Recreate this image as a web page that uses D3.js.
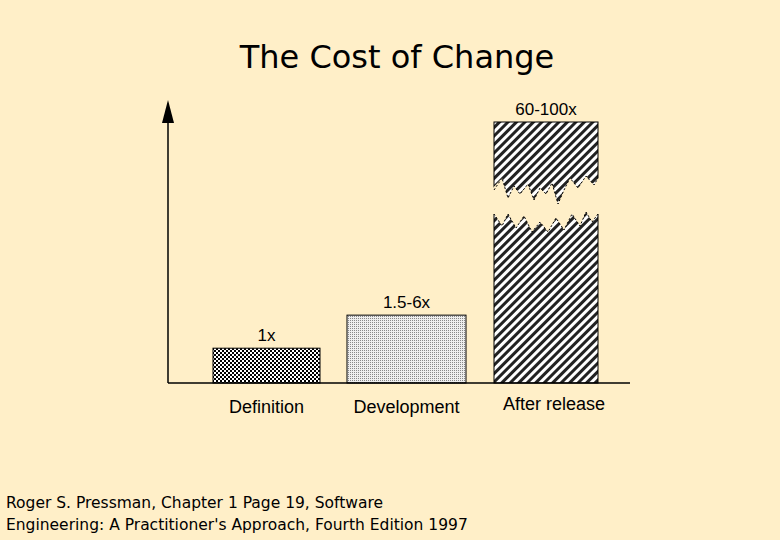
<!DOCTYPE html><html><head><script src="https://cdn.jsdelivr.net/npm/d3@7"></script>
<style>body{margin:0;background:#FFEFC8}</style></head><body><script>
const categories=["Definition","Development","After release"];
const values=[1,1.95,7.5];
const valueLabels=["1x","1.5-6x","60-100x"];
const W=780,H=540;
const svg=d3.select("body").append("svg").attr("width",W).attr("height",H);
svg.append("rect").attr("width",W).attr("height",H).attr("fill","#FFEFC8");
const defs=svg.append("defs");
const p1=defs.append("pattern").attr("id","chk").attr("width",4).attr("height",4).attr("patternUnits","userSpaceOnUse");
p1.append("rect").attr("width",4).attr("height",4).attr("fill","#fff");
p1.append("rect").attr("width",2).attr("height",2).attr("fill","#000");
p1.append("rect").attr("x",2).attr("y",2).attr("width",2).attr("height",2).attr("fill","#000");
const p2=defs.append("pattern").attr("id","dot").attr("width",2).attr("height",2).attr("patternUnits","userSpaceOnUse");
p2.append("rect").attr("width",2).attr("height",2).attr("fill","#eee");
p2.append("rect").attr("width",1).attr("height",1).attr("fill","#888");
const p3=defs.append("pattern").attr("id","diag").attr("width",6).attr("height",6).attr("patternUnits","userSpaceOnUse").attr("patternTransform","rotate(-45)");
p3.append("rect").attr("width",6).attr("height",6).attr("fill","#fff");
p3.append("rect").attr("width",6).attr("height",3).attr("fill","#222");
const fills=["url(#chk)","url(#dot)","url(#diag)"];
const x=d3.scaleOrdinal().domain(categories).range([213,347,494]);
const bw=[107,119,104];
const y=d3.scaleLinear().domain([0,7.5]).range([383,122]);
svg.append("text").attr("x",397).attr("y",68).attr("text-anchor","middle").attr("font-family","DejaVu Sans").attr("font-size",32).text("The Cost of Change");
categories.forEach((c,i)=>{
  svg.append("rect").attr("x",x(c)).attr("y",y(values[i])).attr("width",bw[i]).attr("height",y(0)-y(values[i])).attr("fill",fills[i]).attr("stroke","#000").attr("stroke-width",1);
  svg.append("text").attr("x",x(c)+bw[i]/2).attr("y",y(values[i])-7).attr("text-anchor","middle").attr("font-family","Liberation Sans").attr("font-size",17).text(valueLabels[i]);
  svg.append("text").attr("x",x(c)+bw[i]/2+(i==2?8:0)).attr("y",i==2?410:413).attr("text-anchor","middle").attr("font-family","Liberation Sans").attr("font-size",18).text(c);
});
const bx=x(categories[2]), bx2=bx+bw[2];
const topEdge=[[0,190],[8,178],[14,198],[20,186],[26,194],[34,184],[40,200],[46,188],[52,194],[58,183],[64,204],[70,190],[76,178],[84,188],[92,176],[100,185],[104,178]];
const botEdge=[[104,214],[98,222],[92,212],[86,226],[78,214],[70,230],[62,218],[54,232],[46,222],[38,232],[30,216],[22,228],[14,214],[8,226],[0,214]];
const poly=[[bx-3,190],...topEdge.slice(1).map(p=>[bx+p[0],p[1]]),[bx2+3,178],[bx2+3,214],...botEdge.map(p=>[bx+p[0],p[1]]),[bx-3,214]];
svg.append("polygon").attr("points",poly.map(p=>p.join(",")).join(" ")).attr("fill","#FFEFC8");
[topEdge,botEdge].forEach(e=>svg.append("polyline").attr("points",e.map(p=>[bx+p[0],p[1]].join(",")).join(" ")).attr("fill","none").attr("stroke","#000").attr("stroke-width",1).attr("stroke-dasharray","2,2"));
svg.append("line").attr("x1",168).attr("x2",630).attr("y1",383).attr("y2",383).attr("stroke","#000").attr("stroke-width",1.5);
svg.append("line").attr("x1",168).attr("x2",168).attr("y1",118).attr("y2",383).attr("stroke","#000").attr("stroke-width",1.5);
svg.append("polygon").attr("points","168,100 162,123 174,123").attr("fill","#000");
svg.append("text").attr("x",6).attr("y",508).attr("font-family","DejaVu Sans").attr("font-size",15.5).text("Roger S. Pressman, Chapter 1 Page 19, Software");
svg.append("text").attr("x",6).attr("y",530).attr("font-family","DejaVu Sans").attr("font-size",15.5).text("Engineering: A Practitioner's Approach, Fourth Edition 1997");
</script></body></html>
